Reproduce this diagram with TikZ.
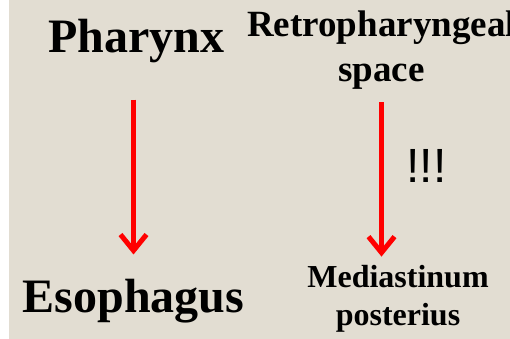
\documentclass[tikz,border=0pt]{standalone}
\usepackage{fontspec}
\setmainfont{Liberation Serif}
\newfontfamily\bangfont{Liberation Sans}
\usetikzlibrary{arrows.meta, positioning}
\definecolor{bgbeige}{RGB}{226,221,210}
\definecolor{arrowred}{RGB}{255,0,0}

\begin{document}
\begin{tikzpicture}[x=1pt, y=-1pt,
    lbl/.style={inner sep=0pt, anchor=base, align=center, font=\bfseries},
    flow/.style={draw=arrowred, line width=5pt,
        -{Straight Barb[length=16pt, width=26pt, line width=5pt]}}]
    % 1. Nen
    \fill[white] (0,0) rectangle (510,339);
    \fill[bgbeige] (9,0) rectangle (510,339);
    \useasboundingbox (0,0) rectangle (510,339);

    % 2. Cac nhan (anchor base = dong cuoi)
    \node[lbl, font=\fontsize{48}{48}\selectfont\bfseries] (pharynx) at (136.5,53) {Pharynx};
    \node[lbl, font=\fontsize{48}{48}\selectfont\bfseries] (esophagus) at (133.5,312) {Esophagus};
    \node[lbl, font=\fontsize{37}{45}\selectfont\bfseries] (retro) at (381.5,82) {Retropharyngeal\\space};
    \node[lbl, font=\fontsize{32}{38}\selectfont\bfseries] (medpost) at (398,325) {Mediastinum\\posterius};
    \node[inner sep=0pt, anchor=base, font=\fontsize{48}{48}\bangfont] (bang) at (426.5,182) {!!!};

    % 3. Mui ten
    \draw[flow, shorten <=36pt, shorten >=24pt] (esophagus.north |- pharynx.south) -- (esophagus.north);
    \draw[flow, shorten <=12pt, shorten >=8pt] (retro.south) -- (retro.south |- medpost.north);
\end{tikzpicture}
\end{document}
